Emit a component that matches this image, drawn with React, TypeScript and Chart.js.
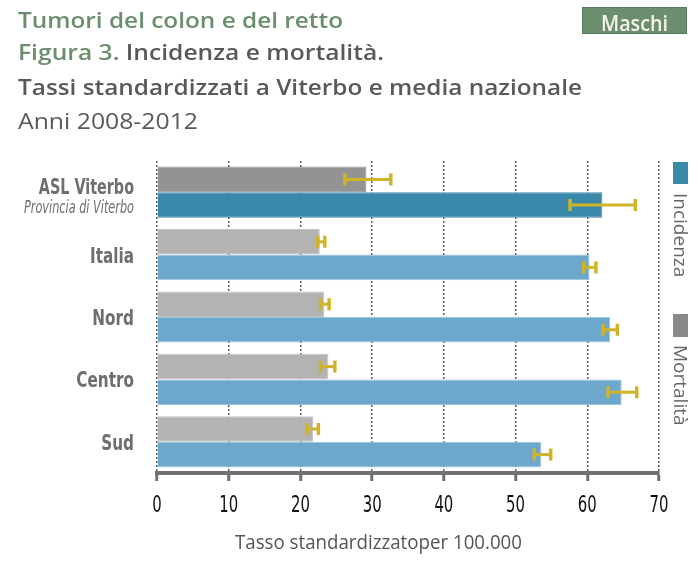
import React, { useEffect, useLayoutEffect, useRef } from 'react';
import { Chart, registerables } from 'chart.js';

Chart.register(...registerables);

const CATEGORIES = ['ASL Viterbo', 'Italia', 'Nord', 'Centro', 'Sud'];
const SUBTITLE_FIRST = 'Provincia di Viterbo';
const MORTALITA = [29.2, 22.7, 23.3, 23.9, 21.8];
const MORTALITA_LOW = [26.2, 22.4, 22.8, 22.8, 20.9];
const MORTALITA_HIGH = [32.6, 23.4, 24.0, 24.8, 22.5];
const INCIDENZA = [62.1, 60.3, 63.2, 64.8, 53.6];
const INCIDENZA_LOW = [57.6, 59.5, 62.2, 62.9, 52.6];
const INCIDENZA_HIGH = [66.7, 61.2, 64.2, 66.9, 54.9];
const X_MIN = 0;
const X_MAX = 70;
const X_STEP = 10;

const GREEN = '#6b8f6e';
const DARK = '#58595b';
const GOLD = '#cfb42a';
const NARROW = '"Liberation Sans Narrow", "DejaVu Sans Condensed", "Arial Narrow", sans-serif';
const OPEN = '"Open Sans", "Noto Sans", sans-serif';

function FitText({ width, style, children }: { width: number; style?: React.CSSProperties; children: React.ReactNode }) {
  const ref = useRef<HTMLSpanElement>(null);
  useLayoutEffect(() => {
    const fit = () => {
      const el = ref.current;
      if (!el) return;
      el.style.transform = 'none';
      const w = el.getBoundingClientRect().width;
      if (w > 0) el.style.transform = `scaleX(${width / w})`;
    };
    fit();
    if ((document as any).fonts && (document as any).fonts.ready) (document as any).fonts.ready.then(fit);
  }, [width]);
  return (
    <span
      ref={ref}
      style={{ display: 'inline-block', whiteSpace: 'nowrap', transformOrigin: 'left top', ...style }}
    >
      {children}
    </span>
  );
}

// draws text squeezed horizontally by factor f, anchored by textAlign at x
function drawCondensed(ctx: any, text: string, x: number, y: number, f: number) {
  ctx.save();
  ctx.translate(x, y);
  ctx.scale(f, 1);
  ctx.fillText(text, 0, 0);
  ctx.restore();
}

const errorBarPlugin = {
  id: 'errorBars',
  afterDatasetsDraw(chart: any) {
    const { ctx } = chart;
    const xs = chart.scales.x;
    const sets = [
      { low: MORTALITA_LOW, high: MORTALITA_HIGH },
      { low: INCIDENZA_LOW, high: INCIDENZA_HIGH },
    ];
    ctx.save();
    ctx.strokeStyle = GOLD;
    sets.forEach((s, d) => {
      const meta = chart.getDatasetMeta(d);
      meta.data.forEach((bar: any, i: number) => {
        const y = bar.y;
        const x1 = xs.getPixelForValue(s.low[i]);
        const x2 = xs.getPixelForValue(s.high[i]);
        const cap = 6;
        ctx.lineWidth = 3;
        ctx.beginPath();
        ctx.moveTo(x1, y);
        ctx.lineTo(x2, y);
        ctx.stroke();
        ctx.lineWidth = 3.5;
        ctx.beginPath();
        ctx.moveTo(x1, y - cap);
        ctx.lineTo(x1, y + cap);
        ctx.moveTo(x2, y - cap);
        ctx.lineTo(x2, y + cap);
        ctx.stroke();
      });
    });
    ctx.restore();
  },
};

const labelPlugin = {
  id: 'condensedLabels',
  afterDraw(chart: any) {
    const { ctx, chartArea } = chart;
    const ys = chart.scales.y;
    const xs = chart.scales.x;
    const x = chartArea.left - 23;
    ctx.save();
    ctx.fillStyle = '#6d6e70';
    ctx.textAlign = 'right';
    ctx.textBaseline = 'alphabetic';
    CATEGORIES.forEach((label, i) => {
      const cy = ys.getPixelForValue(i);
      if (i === 0) {
        ctx.font = `bold 21px ${NARROW}`;
        drawCondensed(ctx, label, x, cy + 2, 0.76);
        ctx.font = `italic 17px ${NARROW}`;
        const w = ctx.measureText(SUBTITLE_FIRST).width;
        drawCondensed(ctx, SUBTITLE_FIRST, x, cy + 21, w > 0 ? 110 / w : 1);
      } else {
        ctx.font = `bold 22px ${NARROW}`;
        drawCondensed(ctx, label, x, cy + 8, 0.77);
      }
    });
    // x tick labels, condensed
    ctx.fillStyle = '#111';
    ctx.textAlign = 'center';
    ctx.font = `23px ${NARROW}`;
    xs.ticks.forEach((t: any, i: number) => {
      const px = xs.getPixelForTick(i);
      drawCondensed(ctx, String(t.value), px, 512, 0.72);
    });
    ctx.restore();
  },
};

export default function App() {
  const canvasRef = useRef<HTMLCanvasElement>(null);

  useEffect(() => {
    const canvas = canvasRef.current;
    if (!canvas) return;
    const chart = new Chart(canvas, {
      type: 'bar',
      data: {
        labels: CATEGORIES,
        datasets: [
          {
            label: 'Mortalità',
            data: MORTALITA,
            backgroundColor: (c: any) => (c.dataIndex === 0 ? '#939393' : '#b3b3b3'),
            borderColor: (c: any) => (c.dataIndex === 0 ? '#939393' : '#c2c2c2'),
            borderWidth: 1,
            categoryPercentage: 0.82,
            barPercentage: 1,
          },
          {
            label: 'Incidenza',
            data: INCIDENZA,
            backgroundColor: (c: any) => (c.dataIndex === 0 ? '#3a88aa' : '#6ea7cc'),
            borderColor: (c: any) => (c.dataIndex === 0 ? '#3a88aa' : '#9cc4de'),
            borderWidth: 1,
            categoryPercentage: 0.82,
            barPercentage: 1,
          },
        ],
      },
      options: {
        indexAxis: 'y',
        responsive: false,
        animation: false,
        layout: { padding: { left: 157, right: 39, top: 161, bottom: 0 } },
        plugins: { legend: { display: false }, tooltip: { enabled: false }, title: { display: false } },
        scales: {
          y: { type: 'category', display: false, grid: { display: false } },
          x: {
            type: 'linear',
            min: X_MIN,
            max: X_MAX,
            ticks: {
              stepSize: X_STEP,
              display: false,
            },
            grid: {
              color: '#5e5e5e',
              lineWidth: 1.5,
              tickColor: '#707070',
              tickWidth: 3,
              tickLength: 8,
              tickBorderDash: [],
            },
            border: { display: true, color: '#707070', width: 4, dash: [2, 2] },
            afterFit: (s: any) => {
              s.height = 97;
            },
          },
        },
      },
      plugins: [errorBarPlugin, labelPlugin],
    } as any);
    return () => chart.destroy();
  }, []);

  const abs = (top: number, left: number): React.CSSProperties => ({ position: 'absolute', top, left });

  return (
    <div style={{ position: 'fixed', left: 0, top: 0, width: 698, height: 570, background: '#fff', overflow: 'hidden' }}>
      <canvas ref={canvasRef} width={698} height={570} style={{ display: 'block', position: 'absolute', left: 0, top: 0 }} />

      <div style={{ ...abs(8, 18), lineHeight: '22px' }}>
        <FitText width={325} style={{ font: `600 22px ${OPEN}`, color: GREEN, lineHeight: '22px' }}>
          Tumori del colon e del retto
        </FitText>
      </div>
      <div style={{ ...abs(40, 18), lineHeight: '22px' }}>
        <FitText width={366} style={{ font: `600 22px ${OPEN}`, color: DARK, lineHeight: '22px' }}>
          <span style={{ color: GREEN }}>Figura 3.</span> Incidenza e mortalità.
        </FitText>
      </div>
      <div style={{ ...abs(74.5, 18), lineHeight: '22px' }}>
        <FitText width={564} style={{ font: `600 22px ${OPEN}`, color: DARK, lineHeight: '22px' }}>
          Tassi standardizzati a Viterbo e media nazionale
        </FitText>
      </div>
      <div style={{ ...abs(108.5, 18), lineHeight: '22px' }}>
        <FitText width={180} style={{ font: `400 22px ${OPEN}`, color: DARK, lineHeight: '22px' }}>
          Anni 2008-2012
        </FitText>
      </div>

      <div
        style={{
          ...abs(7, 582),
          width: 105,
          height: 27,
          boxSizing: 'border-box',
          background: GREEN,
          border: '1px solid #5a7a5d',
        }}
      >
        <div style={{ position: 'absolute', left: 18, top: 3, lineHeight: '22px' }}>
          <FitText width={67} style={{ font: `600 22px ${OPEN}`, color: '#f4f4ea', lineHeight: '22px' }}>
            Maschi
          </FitText>
        </div>
      </div>

      <div style={{ ...abs(162, 673), width: 15, height: 22, background: '#3a88aa' }} />
      <div
        style={{
          ...abs(193, 671),
          writingMode: 'vertical-rl',
          font: `400 19px ${OPEN}`,
          lineHeight: '19px',
          color: '#666',
          whiteSpace: 'nowrap',
        }}
      >
        Incidenza
      </div>
      <div style={{ ...abs(314, 673), width: 15, height: 23, background: '#8a8a8a' }} />
      <div
        style={{
          ...abs(345, 671),
          writingMode: 'vertical-rl',
          font: `400 19px ${OPEN}`,
          lineHeight: '19px',
          color: '#666',
          whiteSpace: 'nowrap',
        }}
      >
        Mortalità
      </div>

      <div style={{ ...abs(532, 235), lineHeight: '20px' }}>
        <FitText width={287} style={{ font: `400 20px ${OPEN}`, color: '#555', lineHeight: '20px' }}>
          Tasso standardizzatoper 100.000
        </FitText>
      </div>
    </div>
  );
}
